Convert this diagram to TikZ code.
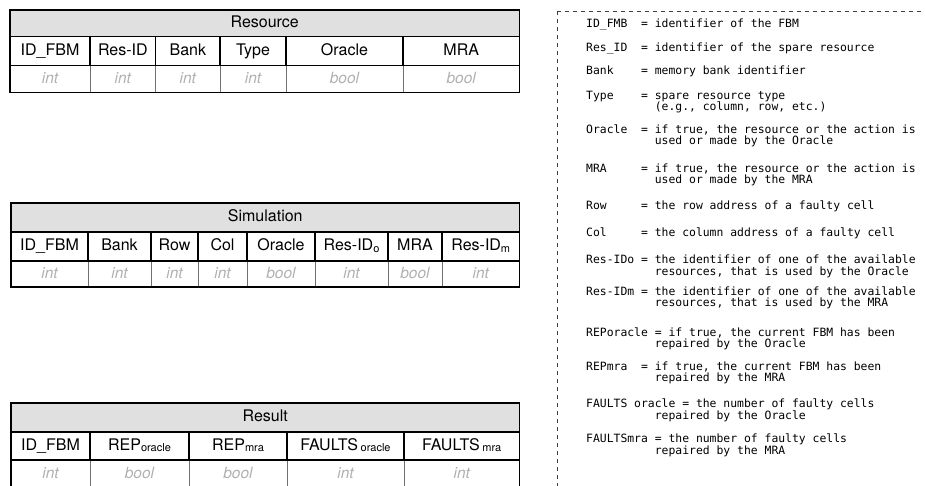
\documentclass[tikz,border=0pt]{standalone}
\usepackage{fontspec}
\setmainfont{TeX Gyre Heros}
\newfontfamily\legendfont{DejaVu Sans Mono}
\usepackage{xcolor}
\definecolor{titlegray}{HTML}{E0E0E0}
\definecolor{typegray}{HTML}{B0B0B0}
\definecolor{typeline}{HTML}{707070}
\newcommand{\lowtext}[1]{\raisebox{-1.5pt}{\fontsize{11}{12}\selectfont #1}}
\newcommand{\contline}{\phantom{0000000000}}
\tikzset{
    table-title/.style = {draw=black, line width=1.2pt, fill=titlegray, anchor=north west, inner sep=0pt, outer sep=0pt, font=\fontsize{16}{18}\selectfont, text height=11.5pt, text depth=3.4pt},
    table-head/.style = {draw=black, line width=1.2pt, anchor=north west, inner sep=0pt, outer sep=0pt, font=\fontsize{16}{18}\selectfont, text height=11.5pt, text depth=3.4pt},
    table-type/.style = {draw=typeline, line width=0.7pt, anchor=north west, inner sep=0pt, outer sep=0pt, text=typegray, font=\fontsize{15.5}{18}\selectfont\itshape, text height=11pt, text depth=3pt},
    table-frame/.style = {draw=black, line width=1.3pt},
    legend-box/.style = {draw=black!75, line width=0.7pt, dash pattern=on 4pt off 4pt},
    legend-line/.style = {anchor=base west, inner sep=0pt, font=\legendfont\fontsize{11.4}{12}\selectfont},
}

\begin{document}
\begin{tikzpicture}[x=1pt, y=-1pt]
\clip (0,0) rectangle (925,486);
\useasboundingbox (0,0) rectangle (925,486);

% Resource table
\node[table-title, minimum width=509.5, minimum height=26.7] (res-title) at (10,10) {Resource};
\foreach \l/\r/\name/\kind [count=\i] in {10/90/ID\_FBM/int, 90/155.7/Res-ID/int, 155.7/220/Bank/int, 220/286/Type/int, 286/403/Oracle/bool, 403/519.5/MRA/bool} {
    \node[table-type, minimum width=\r-\l, minimum height=27] (res-type-\i) at (\l,65.7) {\kind};
    \node[table-head, minimum width=\r-\l, minimum height=29] (res-head-\i) at (\l,36.7) {\name};
}
\draw[table-frame] (res-title.north west) rectangle (res-type-6.south east);

% Simulation table
\node[table-title, minimum width=508.5, minimum height=29] (sim-title) at (11,203) {Simulation};
\foreach \l/\r/\name/\kind [count=\i] in {11/88/ID\_FBM/int, 88/151/Bank/int, 151/198/Row/int, 198/247/Col/int, 247/315/Oracle/bool, 315/388/Res-ID\lowtext{o}/int, 388/442/MRA/bool, 442/519.5/Res-ID\lowtext{m}/int} {
    \node[table-type, minimum width=\r-\l, minimum height=26] (sim-type-\i) at (\l,261) {\kind};
    \node[table-head, minimum width=\r-\l, minimum height=29] (sim-head-\i) at (\l,232) {\name};
}
\draw[table-frame] (sim-title.north west) rectangle (sim-type-8.south east);

% Result table
\node[table-title, minimum width=508.5, minimum height=29] (rst-title) at (11,403) {Result};
\foreach \l/\r/\name/\kind [count=\i] in {11/90/ID\_FBM/int, 90/189/REP\lowtext{oracle}/bool, 189/287/REP\lowtext{mra}/bool, 287/404/FAULTS\,\lowtext{oracle}/int, 404/519.5/FAULTS\,\lowtext{mra}/int} {
    \node[table-type, minimum width=\r-\l, minimum height=28] (rst-type-\i) at (\l,460) {\kind};
    \node[table-head, minimum width=\r-\l, minimum height=28] (rst-head-\i) at (\l,432) {\name};
}
\draw[table-frame] (rst-title.north west) rectangle (rst-type-5.south east);

% legend
\draw[legend-box] (557,11) rectangle (945,505);
\node[legend-line] (leg-id) at (586,27.5) {ID\_FMB~~= identifier of the FBM};
\node[legend-line] (leg-resid) at (586,51.5) {Res\_ID~~= identifier of the spare resource};
\node[legend-line] (leg-bank) at (586,75) {Bank~~~~= memory bank identifier};
\node[legend-line] (leg-type) at (586,99.5) {Type~~~~= spare resource type};
\node[legend-line] (leg-type-b) at ([yshift=-11.5pt]leg-type.base west) {\contline(e.g., column, row, etc.)};
\node[legend-line] (leg-oracle) at (586,133.5) {Oracle~~= if true, the resource or the action is};
\node[legend-line] (leg-oracle-b) at ([yshift=-11.5pt]leg-oracle.base west) {\contline used or made by the Oracle};
\node[legend-line] (leg-mra) at (586,172.5) {MRA~~~~~= if true, the resource or the action is};
\node[legend-line] (leg-mra-b) at ([yshift=-11.5pt]leg-mra.base west) {\contline used or made by the MRA};
\node[legend-line] (leg-row) at (586,209.5) {Row~~~~~= the row address of a faulty cell};
\node[legend-line] (leg-col) at (586,236.5) {Col~~~~~= the column address of a faulty cell};
\node[legend-line] (leg-reso) at (586,263.5) {Res-IDo = the identifier of one of the available};
\node[legend-line] (leg-reso-b) at ([yshift=-11.5pt]leg-reso.base west) {\contline resources, that is used by the Oracle};
\node[legend-line] (leg-resm) at (586,295) {Res-IDm = the identifier of one of the available};
\node[legend-line] (leg-resm-b) at ([yshift=-11.5pt]leg-resm.base west) {\contline resources, that is used by the MRA};
\node[legend-line] (leg-repo) at (586,336) {REPoracle = if true, the current FBM has been};
\node[legend-line] (leg-repo-b) at ([yshift=-11.5pt]leg-repo.base west) {\contline repaired by the Oracle};
\node[legend-line] (leg-repm) at (586,370) {REPmra~~= if true, the current FBM has been};
\node[legend-line] (leg-repm-b) at ([yshift=-11.5pt]leg-repm.base west) {\contline repaired by the MRA};
\node[legend-line] (leg-faulto) at (586,407.5) {FAULTS oracle = the number of faulty cells};
\node[legend-line] (leg-faulto-b) at ([yshift=-11.5pt]leg-faulto.base west) {\contline repaired by the Oracle};
\node[legend-line] (leg-faultm) at (586,442.5) {FAULTSmra = the number of faulty cells};
\node[legend-line] (leg-faultm-b) at ([yshift=-11.5pt]leg-faultm.base west) {\contline repaired by the MRA};
\end{tikzpicture}
\end{document}
